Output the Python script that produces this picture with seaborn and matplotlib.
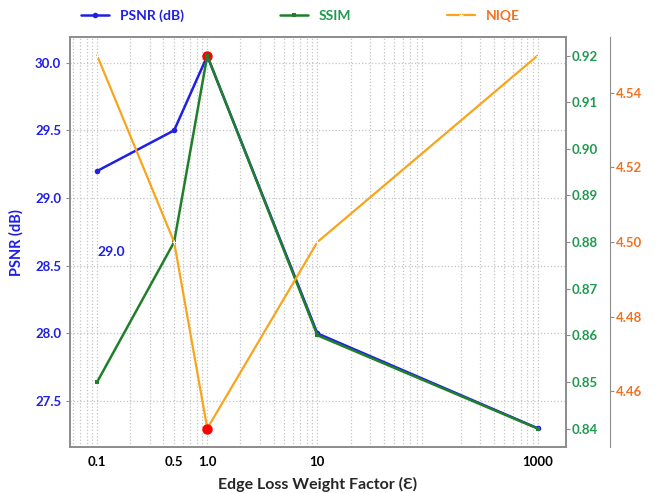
import pandas as pd
import matplotlib
matplotlib.use('Agg')
import matplotlib.pyplot as plt
import seaborn as sns

# 데이터
weights = [0.1, 0.5, 1.0, 10, 1000]
tick_labels = ['0.1', '0.5', '1.0', '10', '1000']
psnr = [29.2, 29.5, 30.05, 28.0, 27.3]
ssim = [0.85, 0.88, 0.92, 0.86, 0.84]
niqe = [4.55, 4.50, 4.45, 4.50, 4.55]
best_psnr = 30.05
best_niqe = 4.45

sns.set_style('white')
plt.rcParams['font.family'] = ['Lato', 'DejaVu Sans']
plt.rcParams['font.weight'] = 'bold'

blue = '#1f1fe6'
green = '#1f7f2a'
green_txt = '#1e9a4e'
orange = '#f8a51c'
orange_txt = '#f07222'
spine_c = '#8c8c8c'

df = pd.DataFrame({'w': weights, 'psnr': psnr, 'ssim': ssim, 'niqe': niqe})

fig = plt.figure(figsize=(6.57, 4.93), dpi=100)
ax = fig.add_axes([0.107, 0.093, 0.754, 0.832])
ax2 = ax.twinx()
ax3 = ax.twinx()
ax3.spines['right'].set_position(('outward', 32))

sns.lineplot(data=df, x='w', y='psnr', ax=ax, color=blue, lw=1.8, marker='o',
             markersize=4, markeredgewidth=0, label='PSNR (dB)', legend=False)
sns.lineplot(data=df, x='w', y='ssim', ax=ax2, color=green, lw=1.8, marker='s',
             markersize=3.5, markeredgewidth=0, label='SSIM', legend=False)
sns.lineplot(data=df, x='w', y='niqe', ax=ax3, color=orange, lw=1.6, marker='+',
             markersize=3, label='NIQE', legend=False)

# 최고 지점 표시
ax.plot([1.0], [best_psnr], 'o', color='red', markersize=6.5, zorder=5)
ax3.plot([1.0], [best_niqe], 'o', color='red', markersize=6.5, zorder=5)

ax.text(0.1, 28.6, '29.0', color=blue, fontsize=10, fontweight='bold',
        ha='left', va='center')

ax.set_xscale('log')
ax.set_xlim(0.057, 1800)
ax.set_xticks(weights)
ax.set_xticklabels(tick_labels)
ax.set_yticks([27.5, 28.0, 28.5, 29.0, 29.5, 30.0])
ax2.set_yticks([0.84, 0.85, 0.86, 0.87, 0.88, 0.89, 0.90, 0.91, 0.92])
ax3.set_yticks([4.46, 4.48, 4.50, 4.52, 4.54])
ax.set_ylim(27.16, 30.19)
ax2.set_ylim(0.836, 0.924)
ax3.set_ylim(4.445, 4.555)

ax.grid(which='both', axis='x', linestyle=':', color='#c4c4c4', lw=0.9)
ax.grid(which='major', axis='y', linestyle=':', color='#c4c4c4', lw=0.9)

ax.set_xlabel('Edge Loss Weight Factor (Ɛ)', fontsize=11.5, fontweight='bold', labelpad=6)
ax.set_ylabel('PSNR (dB)', color=blue, fontsize=10.5, fontweight='bold', labelpad=8)
ax2.set_ylabel('')
ax3.set_ylabel('')

ax.tick_params(axis='x', labelsize=9.5, colors='black', length=3, color=spine_c)
ax.tick_params(axis='x', which='minor', length=0)
ax.tick_params(axis='y', labelsize=9.5, labelcolor=blue, length=3, color=spine_c)
ax2.tick_params(axis='y', labelsize=9.5, labelcolor=green_txt, length=3, color=spine_c, pad=1)
ax3.tick_params(axis='y', labelsize=9.5, labelcolor=orange_txt, length=3, color=spine_c, pad=1)
for lab in ax.get_xticklabels() + ax.get_yticklabels() + ax2.get_yticklabels() + ax3.get_yticklabels():
    lab.set_fontweight('bold')

for a in (ax, ax2):
    for s in a.spines.values():
        s.set_color(spine_c)
        s.set_linewidth(1.2)
for name, s in ax3.spines.items():
    s.set_visible(name == 'right')
ax3.spines['right'].set_color(spine_c)

handles = [ax.lines[0], ax2.lines[0], ax3.lines[0]]
leg = fig.legend(handles, ['PSNR (dB)', 'SSIM', 'NIQE'], ncol=3, frameon=False,
                 loc='center left', bbox_to_anchor=(0.105, 0.968), fontsize=10,
                 handlelength=2.0, columnspacing=6.9, handletextpad=0.8)
for txt, c in zip(leg.get_texts(), [blue, green_txt, orange_txt]):
    txt.set_color(c)
    txt.set_fontweight('bold')

fig.savefig('out.png', dpi=100)
